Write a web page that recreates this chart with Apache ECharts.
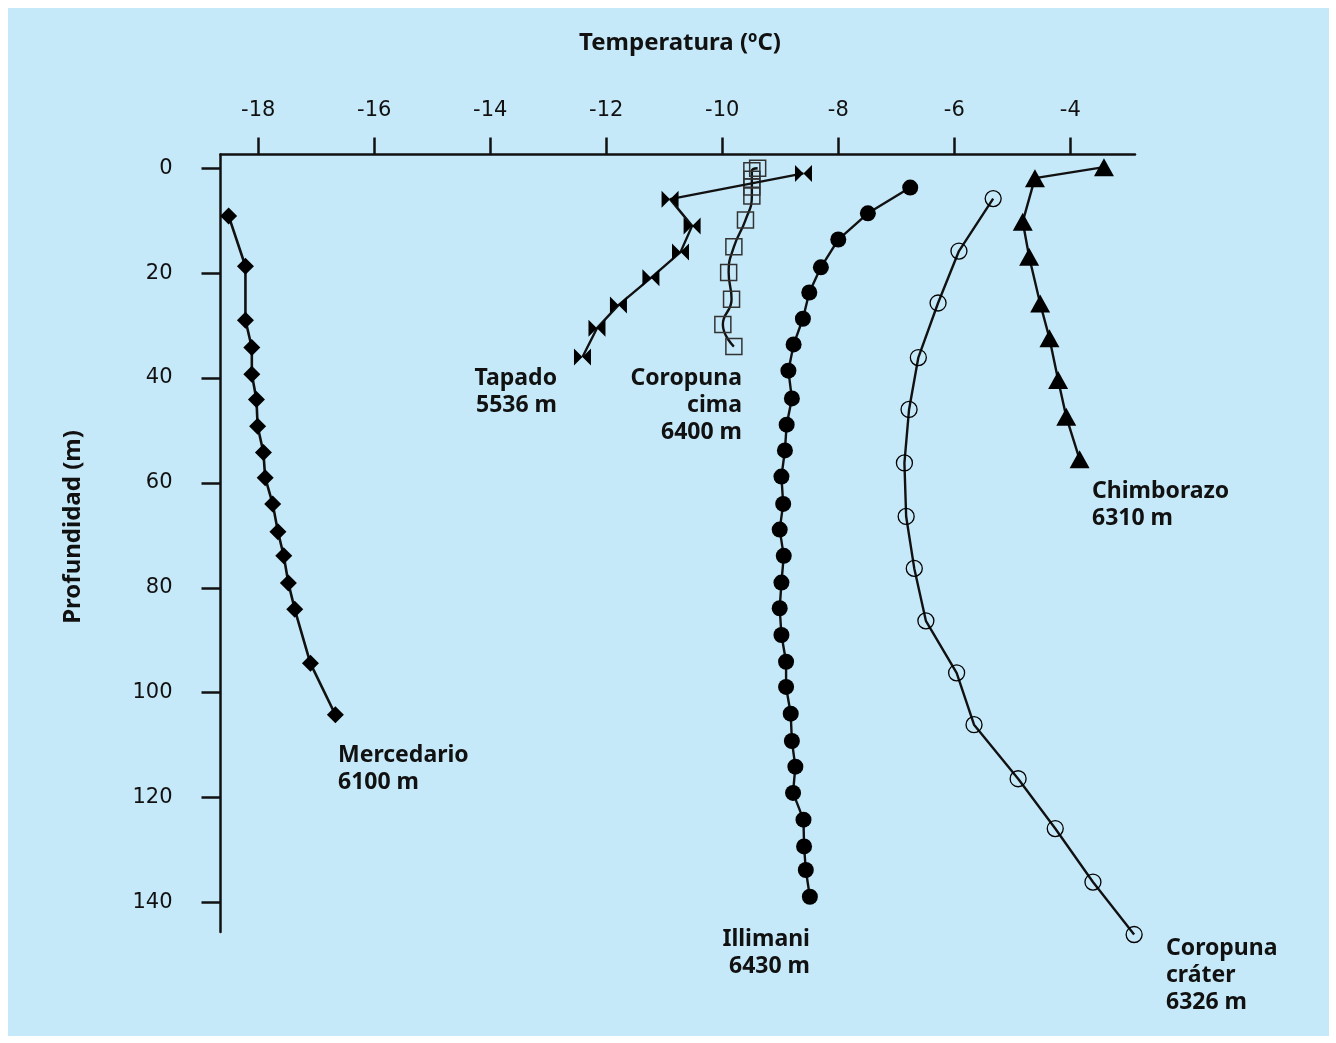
<!DOCTYPE html>
<html><head><meta charset="utf-8">
<script src="https://cdn.jsdelivr.net/npm/echarts@6/dist/echarts.min.js"></script>
<style>
html,body{margin:0;padding:0;background:#fff;}
#bg{position:absolute;left:8px;top:8px;width:1321px;height:1028px;background:#C6E9F9;}
#chart{position:absolute;left:0;top:0;width:1336px;height:1043px;}
</style></head><body><div id="bg"></div><div id="chart"></div>
<script>
// Tick values
var xTicks = [-18, -16, -14, -12, -10, -8, -6, -4];
var yTicks = [0, 20, 40, 60, 80, 100, 120, 140];

// Mercedario 6100 m
var mercedarioTemp = [-18.51, -18.22, -18.22, -18.11, -18.11, -18.03, -18.01, -17.91, -17.88, -17.75, -17.66, -17.56, -17.48, -17.37, -17.10, -16.67];
var mercedarioDepth = [9.1, 18.7, 29.0, 34.2, 39.3, 44.1, 49.2, 54.2, 59.0, 64.0, 69.3, 73.9, 79.1, 84.1, 94.4, 104.2];

// Tapado 5536 m
var tapadoTemp = [-8.60, -10.90, -10.52, -10.72, -11.23, -11.79, -12.16, -12.41];
var tapadoDepth = [1.0, 5.9, 11.0, 16.0, 20.9, 26.1, 30.5, 36.0];

// Coropuna cima 6400 m
var cimaTemp = [-9.39, -9.49, -9.49, -9.49, -9.49, -9.60, -9.80, -9.89, -9.84, -9.99, -9.80];
var cimaDepth = [0.0, 0.5, 2.1, 3.6, 5.3, 9.9, 15.0, 19.9, 25.0, 29.8, 34.0];

// Illimani 6430 m
var illimaniTemp = [-6.76, -7.49, -8.00, -8.30, -8.50, -8.61, -8.77, -8.86, -8.80, -8.89, -8.92, -8.98, -8.95, -9.01, -8.94, -8.98, -9.01, -8.98, -8.90, -8.90, -8.82, -8.80, -8.74, -8.78, -8.60, -8.59, -8.56, -8.49];
var illimaniDepth = [3.7, 8.6, 13.6, 18.9, 23.7, 28.7, 33.6, 38.6, 43.9, 48.9, 53.8, 58.8, 64.0, 68.9, 73.9, 79.0, 83.9, 89.0, 94.1, 98.9, 104.0, 109.2, 114.1, 119.1, 124.2, 129.3, 133.8, 138.9];

// Coropuna cráter 6326 m
var craterTemp = [-5.33, -5.92, -6.28, -6.62, -6.78, -6.86, -6.83, -6.69, -6.49, -5.96, -5.66, -4.90, -4.26, -3.61, -2.90];
var craterDepth = [5.8, 15.8, 25.7, 36.1, 46.0, 56.2, 66.4, 76.3, 86.3, 96.2, 106.1, 116.4, 125.9, 136.1, 146.1];

// Chimborazo 6310 m
var chimboTemp = [-3.42, -4.61, -4.82, -4.71, -4.52, -4.36, -4.21, -4.07, -3.84];
var chimboDepth = [-0.2, 1.9, 10.2, 16.9, 25.8, 32.4, 40.4, 47.4, 55.5];

function zip(a, b) { return a.map(function (v, i) { return [v, b[i]]; }); }

var INK = '#111';
var FONT = '"Noto Sans", sans-serif';
var TICKFONT = '"DejaVu Sans", sans-serif';

function series(name, temps, depths, symbol, size, itemStyle, extra) {
  var s = {
    name: name, type: 'line', data: zip(temps, depths),
    symbol: symbol, symbolSize: size, showSymbol: true, clip: false,
    lineStyle: { color: INK, width: 2.4 },
    itemStyle: itemStyle,
    emphasis: { disabled: true },
    z: 3
  };
  for (var k in extra) s[k] = extra[k];
  return s;
}

var chart = echarts.init(document.getElementById('chart'), null, { renderer: 'canvas' });

function label(x, y, text, align) {
  return {
    type: 'text', x: x, y: y, z: 10,
    style: {
      text: text, fill: INK, textAlign: align, textVerticalAlign: 'top',
      font: 'bold 23px ' + FONT, lineHeight: 27
    }
  };
}

chart.setOption({
  animation: false,
  backgroundColor: 'transparent',
  grid: { left: 220.5, top: 154.5, width: 914.5, height: 777.5, containLabel: false },
  xAxis: {
    type: 'value', position: 'top', min: -18.65, max: -2.885,
    axisLine: { onZero: false, lineStyle: { color: INK, width: 2.5 } },
    axisTick: { show: true, customValues: xTicks, length: 17, lineStyle: { color: INK, width: 2.5 } },
    axisLabel: { customValues: xTicks, margin: 33, fontSize: 21, color: INK, fontFamily: TICKFONT },
    splitLine: { show: false }
  },
  yAxis: {
    type: 'value', inverse: true, min: -2.61, max: 145.62,
    axisLine: { onZero: false, lineStyle: { color: INK, width: 2.5 } },
    axisTick: { show: true, customValues: yTicks, length: 19, lineStyle: { color: INK, width: 2.5 } },
    axisLabel: { customValues: yTicks, margin: 48, fontSize: 21, color: INK, fontFamily: TICKFONT, padding: [4, 0, 0, 0] },
    splitLine: { show: false }
  },
  graphic: [
    { type: 'text', x: 680, y: 43, style: { text: 'Temperatura (ºC)', fill: INK, textAlign: 'center', textVerticalAlign: 'middle', font: 'bold 24px ' + FONT } },
    { type: 'text', x: 73, y: 527, rotation: Math.PI / 2, style: { text: 'Profundidad (m)', fill: INK, textAlign: 'center', textVerticalAlign: 'middle', font: 'bold 24px ' + FONT } },
    label(557, 364.5, 'Tapado\n5536 m', 'right'),
    label(742, 364.5, 'Coropuna\ncima\n6400 m', 'right'),
    label(1092, 477.5, 'Chimborazo\n6310 m', 'left'),
    label(338, 741.5, 'Mercedario\n6100 m', 'left'),
    label(810, 925.5, 'Illimani\n6430 m', 'right'),
    label(1166, 934.5, 'Coropuna\ncráter\n6326 m', 'left')
  ],
  series: [
    series('Mercedario', mercedarioTemp, mercedarioDepth, 'diamond', 17, { color: '#000' }, { lineStyle: { color: INK, width: 2.6 } }),
    series('Tapado', tapadoTemp, tapadoDepth, 'path://M0,0L10,10L0,20ZM20,0L10,10L20,20Z', [17, 17], { color: '#000' }, {}),
    series('Coropuna cima', cimaTemp, cimaDepth, 'rect', 16, { color: 'rgba(0,0,0,0)', borderColor: '#333', borderWidth: 1.5 }, { smooth: 0.5, z: 2 }),
    series('Illimani', illimaniTemp, illimaniDepth, 'circle', 16, { color: '#000' }, {}),
    series('Coropuna cráter', craterTemp, craterDepth, 'circle', 16, { color: 'rgba(0,0,0,0)', borderColor: '#000', borderWidth: 1.3 }, {}),
    series('Chimborazo', chimboTemp, chimboDepth, 'triangle', [20, 18], { color: '#000' }, {})
  ]
});
</script></body></html>
